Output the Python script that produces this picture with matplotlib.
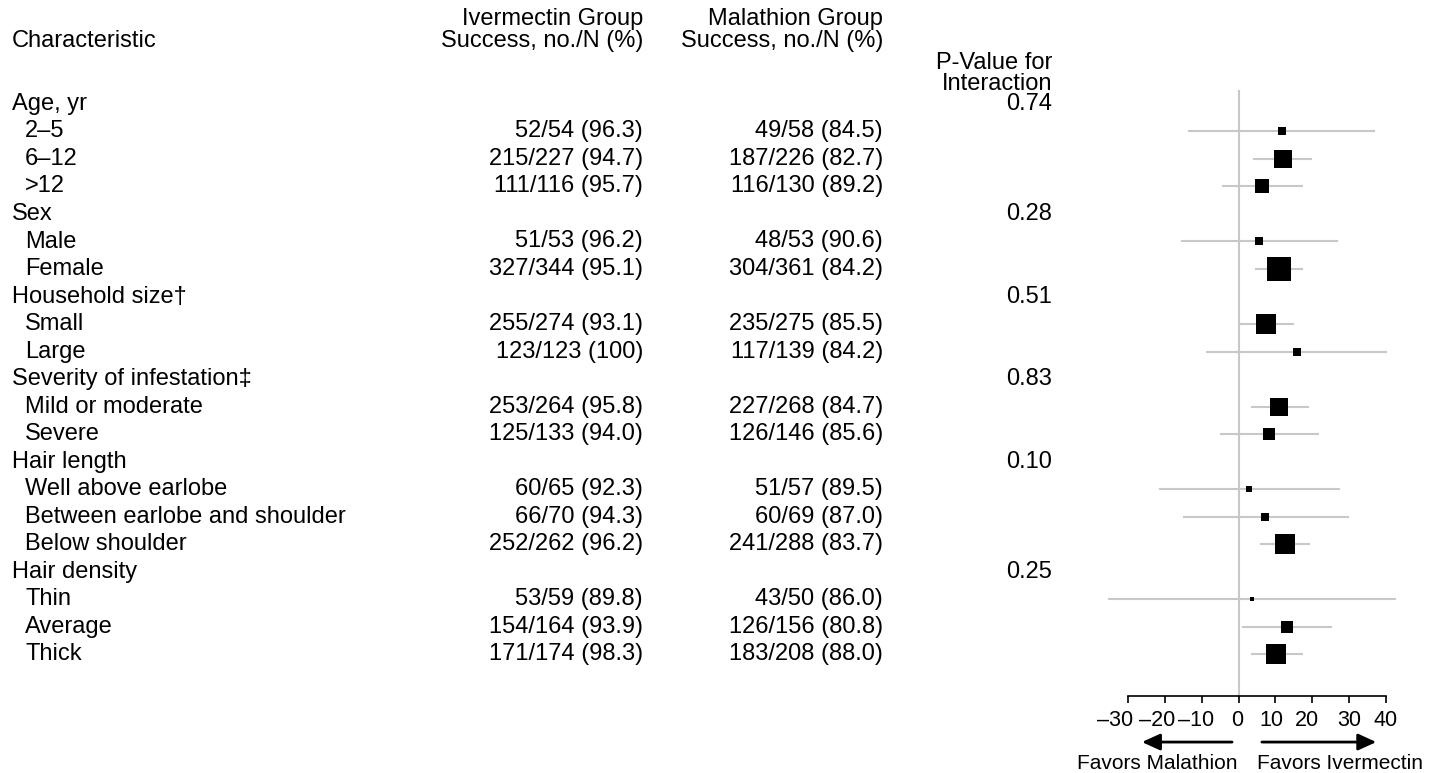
import matplotlib
matplotlib.use("Agg")
import matplotlib.pyplot as plt
from matplotlib.transforms import blended_transform_factory, ScaledTranslation

plt.rcParams['font.family'] = ['Liberation Sans', 'DejaVu Sans']

groups = ['Age, yr', 'Sex', 'Household size†', 'Severity of infestation‡',
          'Hair length', 'Hair density']
p_values = ['0.74', '0.28', '0.51', '0.83', '0.10', '0.25']
subgroups = [['2–5', '6–12', '>12'],
             ['Male', 'Female'],
             ['Small', 'Large'],
             ['Mild or moderate', 'Severe'],
             ['Well above earlobe', 'Between earlobe and shoulder', 'Below shoulder'],
             ['Thin', 'Average', 'Thick']]

iver_success = [52, 215, 111, 51, 327, 255, 123, 253, 125, 60, 66, 252, 53, 154, 171]
iver_n = [54, 227, 116, 53, 344, 274, 123, 264, 133, 65, 70, 262, 59, 164, 174]
iver_pct = ['96.3', '94.7', '95.7', '96.2', '95.1', '93.1', '100', '95.8', '94.0',
            '92.3', '94.3', '96.2', '89.8', '93.9', '98.3']
mala_success = [49, 187, 116, 48, 304, 235, 117, 227, 126, 51, 60, 241, 43, 126, 183]
mala_n = [58, 226, 130, 53, 361, 275, 139, 268, 146, 57, 69, 288, 50, 156, 208]
mala_pct = ['84.5', '82.7', '89.2', '90.6', '84.2', '85.5', '84.2', '84.7', '85.6',
            '89.5', '87.0', '83.7', '86.0', '80.8', '88.0']

ci_low = [-13.4, 4.3, -4.1, -15.4, 4.8, 0.1, -8.5, 3.6, -4.8, -21.4, -14.9, 6.0, -35.1, 1.1, 3.6]
ci_high = [36.9, 19.6, 17.2, 26.9, 17.2, 14.7, 40.1, 18.8, 21.6, 27.2, 29.7, 19.2, 42.5, 25.2, 17.2]
weights = [7.7, 18, 13.3, 7.3, 23.7, 19.3, 7.3, 17.7, 12, 6, 7.7, 20.7, 4.7, 11.7, 20.7]

ticks = [-30, -20, -10, 0, 10, 20, 30, 40]

W, H = 1440, 773
fig = plt.figure(figsize=(W / 100, H / 100), dpi=100)

# forest panel: x pixels 1091..1404, y pixels 90..696
ax = fig.add_axes([1091.3 / W, 1 - 696 / H, (1404.1 - 1091.3) / W, (696 - 90) / H])
ax.set_xlim(-40, 45)
ax.set_ylim(21.527, -0.509)

fs = 17
grey = '#c8c8c8'

rows = []
row = 0
for g, subs in enumerate(subgroups):
    rows.append(('group', g, row))
    row += 1
    for s in subs:
        rows.append(('sub', s, row))
        row += 1

trans = blended_transform_factory(fig.transFigure, ax.transData)

k = 0
for kind, item, y in rows:
    if kind == 'group':
        fig.text(12 / W, y, groups[item], transform=trans, fontsize=fs, va='center', ha='left')
        fig.text(1052 / W, y, p_values[item], transform=trans, fontsize=fs, va='center', ha='right')
    else:
        fig.text(25 / W, y, item, transform=trans, fontsize=fs, va='center', ha='left')
        fig.text(643 / W, y, f'{iver_success[k]}/{iver_n[k]} ({iver_pct[k]})', transform=trans,
                 fontsize=fs, va='center', ha='right')
        fig.text(883 / W, y, f'{mala_success[k]}/{mala_n[k]} ({mala_pct[k]})', transform=trans,
                 fontsize=fs, va='center', ha='right')
        diff = float(iver_pct[k]) - float(mala_pct[k])
        ax.plot([ci_low[k], ci_high[k]], [y, y], color=grey, lw=1.5, zorder=1)
        ax.scatter([diff], [y], marker='s', s=(weights[k] * 0.72) ** 2,
                   color='black', zorder=3, linewidths=0)
        k += 1

ax.axvline(0, color=grey, lw=1.5, zorder=0)

# column headers
def header(x, y, txt, ha='right'):
    fig.text(x / W, 1 - y / H, txt, fontsize=fs, va='center', ha=ha)

header(12, 41, 'Characteristic', ha='left')
header(643, 19, 'Ivermectin Group')
header(643, 41, 'Success, no./N (%)')
header(883, 19, 'Malathion Group')
header(883, 41, 'Success, no./N (%)')
header(1052, 63, 'P-Value for')
header(1052, 84, 'Interaction')

for side in ['top', 'right', 'left']:
    ax.spines[side].set_visible(False)
ax.spines['bottom'].set_bounds(-30, 40)
ax.spines['bottom'].set_linewidth(1.2)
ax.set_yticks([])
ax.set_xticks(ticks)
ax.set_xticklabels([str(t).replace('-', '–') for t in ticks], fontsize=15.5)
ax.tick_params(axis='x', direction='out', length=5, width=1.2, pad=5)
ax.patch.set_visible(False)

# nudge the crowded tick labels apart (pixel offsets)
nudge = [-13, -8, -6, -1, -4, -5, 0, 0]
for lab, dx in zip(ax.get_xticklabels(), nudge):
    lab.set_transform(lab.get_transform() + ScaledTranslation(dx / 100, 0, fig.dpi_scale_trans))

# direction arrows
xt = ax.get_xaxis_transform()
arrow = dict(arrowstyle='-|>,head_length=1.1,head_width=0.5', color='black', lw=2)
ax.annotate('', xy=(-27, -0.076), xytext=(-1, -0.076), xycoords=xt, textcoords=xt,
            arrowprops=arrow, annotation_clip=False)
ax.annotate('', xy=(38.2, -0.076), xytext=(5.6, -0.076), xycoords=xt, textcoords=xt,
            arrowprops=arrow, annotation_clip=False)
ax.text(-22, -0.111, 'Favors Malathion', transform=xt, fontsize=15, ha='center', va='center')
ax.text(27.6, -0.111, 'Favors Ivermectin', transform=xt, fontsize=15, ha='center', va='center')

fig.savefig('out.png', dpi=100)
